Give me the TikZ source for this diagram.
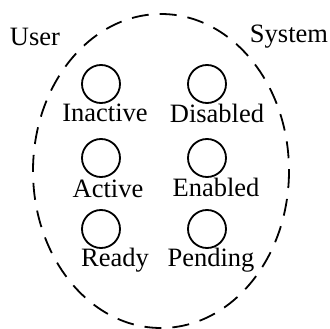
\documentclass[tikz,border=0pt]{standalone}
\usepackage{fontspec}
\setmainfont{Liberation Serif}
\begin{document}
\begin{tikzpicture}[x=1pt,y=-1pt,
  state/.style={circle,draw,line width=1.8pt,minimum size=38pt,inner sep=0pt},
  lbl/.style={font=\fontsize{26.5}{30}\selectfont,inner sep=0pt},
  boundary/.style={draw,line width=1.8pt,dash pattern=on 17pt off 11pt}]
\useasboundingbox (0,0) rectangle (330,329);
\draw[boundary] (161,171) ellipse [x radius=128, y radius=157];
\node[state] (c1) at (101,84) {};
\node[state] (c2) at (207,84) {};
\node[state] (c3) at (101,158) {};
\node[state] (c4) at (207,158) {};
\node[state] (c5) at (101,229) {};
\node[state] (c6) at (207,229) {};
\node[lbl] (l1) at (105,113) {Inactive};
\node[lbl] (l2) at (217,113) {Disabled};
\node[lbl] (l3) at (108,189) {Active};
\node[lbl] (l4) at (216,187) {Enabled};
\node[lbl] (l5) at (115,260) {Ready};
\node[lbl] (l6) at (211,260) {Pending};
\node[lbl] (u) at (35,37) {User};
\node[lbl] (s) at (289,37) {System};
\end{tikzpicture}
\end{document}
